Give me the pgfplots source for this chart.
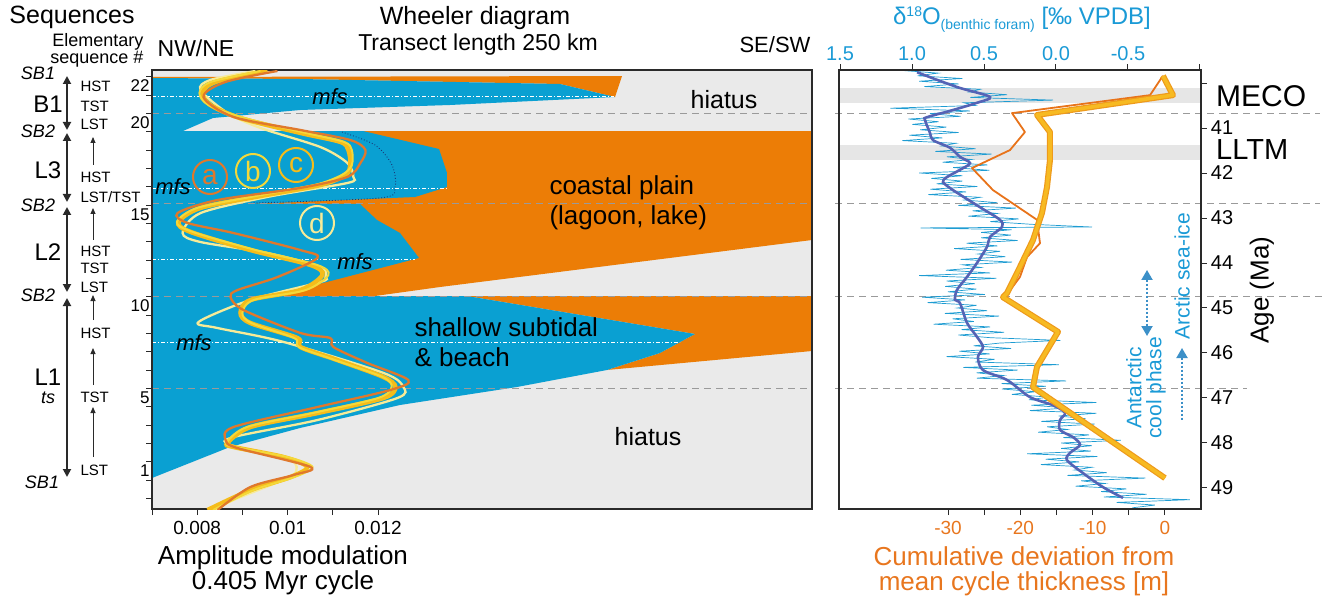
\documentclass[border=0pt]{standalone}
\usepackage{pgfplots}
\pgfplotsset{compat=1.18}
\usepackage{pgfplotstable}
\usepackage{fontspec}
\setmainfont{Liberation Sans}
\usetikzlibrary{arrows.meta}

\definecolor{blueFill}{HTML}{0AA0D2}
\definecolor{orangeFill}{HTML}{EC7D06}
\definecolor{grayBg}{HTML}{EAEAEA}
\definecolor{dashGray}{HTML}{9A9A9A}
\definecolor{colA}{HTML}{E0782C}
\definecolor{colB}{HTML}{F4D83A}
\definecolor{colC}{HTML}{F5BC1A}
\definecolor{colD}{HTML}{F7EB98}
\definecolor{noiseBlue}{HTML}{1E9CD2}
\definecolor{smoothBlue}{HTML}{5563B5}
\definecolor{cumThin}{HTML}{E8731A}
\definecolor{cumEdge}{HTML}{EE9A1C}
\definecolor{cumGold}{HTML}{F7BA22}
\definecolor{txtBlue}{HTML}{1A9AD6}
\definecolor{txtOrange}{HTML}{E8761E}
\definecolor{arrBlue}{HTML}{3C90C8}
\definecolor{bandGray}{HTML}{E6E6E6}
\definecolor{frameC}{HTML}{2A2A2A}
\definecolor{darkDot}{HTML}{1A3A7A}

\newcommand{\fsz}[1]{\fontsize{#1}{#1}\selectfont}

% delta18O benthic foram (value, age Ma)
\pgfplotstableread{
d age
1.075 39.72
0.819 39.78
0.960 39.84
0.651 39.90
0.950 39.96
0.677 40.02
0.914 40.08
0.526 40.14
0.603 40.20
0.340 40.26
0.595 40.32
0.020 40.38
0.639 40.44
0.561 40.50
1.150 40.56
0.598 40.62
0.875 40.68
0.663 40.74
1.025 40.80
0.815 40.86
0.998 40.92
0.761 40.98
0.943 41.04
0.676 41.10
1.018 41.16
0.790 41.22
1.067 41.28
0.695 41.34
0.794 41.40
0.559 41.46
0.838 41.52
0.448 41.58
0.757 41.64
0.587 41.70
0.787 41.76
0.476 41.82
0.714 41.88
0.463 41.94
0.950 42.00
0.650 42.06
0.865 42.12
0.650 42.18
0.829 42.24
0.546 42.30
0.873 42.36
0.625 42.42
0.886 42.48
0.526 42.54
0.637 42.60
0.407 42.66
0.678 42.72
0.278 42.78
0.578 42.84
0.409 42.90
0.609 42.96
0.259 43.02
0.456 43.08
0.170 43.14
-0.250 43.20
0.940 43.22
0.308 43.26
0.520 43.32
0.313 43.38
0.520 43.44
0.266 43.50
0.621 43.56
0.407 43.62
0.707 43.68
0.388 43.74
0.540 43.80
0.352 43.86
0.663 43.92
0.305 43.98
0.648 44.04
0.521 44.10
0.765 44.16
0.458 44.22
0.950 44.28
0.415 44.34
0.760 44.40
0.564 44.46
0.769 44.52
0.553 44.58
0.750 44.64
0.494 44.70
0.930 44.76
0.631 44.82
0.892 44.88
0.551 44.94
0.685 45.00
0.478 45.06
0.771 45.12
0.395 45.18
0.718 45.24
0.571 45.30
0.850 45.36
0.458 45.42
0.655 45.48
0.361 45.54
0.678 45.60
0.455 45.66
-0.030 45.72
0.393 45.78
0.572 45.84
0.312 45.90
0.671 45.96
0.461 46.02
0.760 46.08
0.426 46.14
0.559 46.20
-0.020 46.26
0.644 46.32
0.267 46.38
0.551 46.44
0.366 46.50
0.550 46.56
-0.070 46.62
0.377 46.68
0.071 46.74
0.376 46.80
0.141 46.86
0.306 46.92
0.051 46.98
0.188 47.04
-0.280 47.10
0.171 47.16
-0.079 47.22
0.182 47.28
-0.280 47.34
-0.018 47.40
-0.205 47.46
0.102 47.52
-0.268 47.58
0.062 47.64
-0.078 47.70
0.124 47.76
-0.230 47.82
-0.051 47.88
-0.450 47.94
-0.036 48.00
-0.249 48.06
-0.036 48.12
-0.242 48.18
0.200 48.24
-0.287 48.30
0.071 48.36
-0.161 48.42
0.105 48.48
-0.248 48.54
-0.131 48.60
-0.354 48.66
-0.080 48.72
-0.620 48.78
-0.174 48.84
-0.340 48.90
-0.137 48.96
-0.489 49.02
-0.314 49.08
-0.629 49.14
-0.333 49.20
-0.930 49.26
-0.422 49.32
-0.686 49.38
-0.531 49.44
}\noisetab

\pgfplotstableread{
d age
0.965 39.76
0.826 39.93
0.667 40.11
0.458 40.31
0.549 40.44
0.715 40.60
0.896 40.76
0.910 40.82
0.875 41.11
0.854 41.27
0.736 41.44
0.667 41.64
0.597 41.78
0.667 41.93
0.757 42.09
0.785 42.20
0.715 42.38
0.528 42.76
0.389 43.04
0.375 43.20
0.458 43.42
0.479 43.64
0.549 44.00
0.618 44.31
0.688 44.60
0.701 44.82
0.667 44.89
0.618 45.33
0.549 45.64
0.507 45.87
0.542 46.09
0.507 46.38
0.340 46.60
0.181 46.98
0.021 47.16
-0.063 47.33
-0.028 47.49
-0.028 47.71
-0.118 47.87
-0.167 48.04
-0.097 48.22
-0.076 48.38
-0.188 48.67
-0.326 48.98
-0.465 49.22
}\smoothtab

\begin{document}
\begin{tikzpicture}[x=1pt,y=1pt]
\useasboundingbox (0,0) rectangle (1325,598);

% ---------------- Wheeler diagram (distance along transect, km) ----------------
\begin{axis}[at={(152pt,89pt)}, anchor=south west, scale only axis,
  width=660pt, height=439pt,
  xmin=0, xmax=250, ymin=-1.073, ymax=22.873,
  axis background/.style={fill=grayBg},
  axis line style={draw=none}, xtick=\empty, ytick=\empty]
\addplot[fill=orangeFill, draw=none] coordinates {(0,22.491) (178.03,22.545) (175.38,21.400) (154.55,22.109) (56.06,22.382) (0,22.436)};
\addplot[fill=blueFill, draw=none] coordinates {(0,22.436) (56.06,22.382) (154.55,22.109) (175.38,21.400) (112.88,20.964) (56.06,20.691) (23.11,20.255) (11.74,19.545) (0,19.545)};
\addplot[fill=orangeFill, draw=none] coordinates {(0,19.545) (250,19.545) (250,13.600) (109.09,11.036) (84.47,10.545) (0,10.545)};
\addplot[fill=blueFill, draw=none] coordinates {(0,19.545) (79.92,19.545) (108.71,18.564) (111.74,17.255) (111.74,16.491) (99.62,15.945) (37.12,15.564) (0,15.564)};
\addplot[fill=blueFill, draw=none] coordinates {(0,15.564) (78.79,15.564) (85.23,14.691) (93.94,13.982) (101.14,12.618) (64.77,11.255) (40.91,10.545) (0,10.545)};
\addplot[fill=orangeFill, draw=none] coordinates {(119.32,10.545) (250,10.545) (250,7.545) (172.35,6.509) (192.42,7.436) (205.68,8.473)};
\addplot[fill=blueFill, draw=none] coordinates {(0,10.545) (119.32,10.545) (205.68,8.473) (192.42,7.436) (172.35,6.509) (138.26,5.582) (93.94,4.600) (56.06,3.345) (29.55,2.309) (0,0.618)};
% maximum flooding surfaces
\addplot[white, line width=0.8pt, dash pattern=on 4pt off 2pt on 1pt off 2pt] coordinates {(0,21.455) (175,21.455)};
\addplot[white, line width=0.8pt, dash pattern=on 4pt off 2pt on 1pt off 2pt] coordinates {(0,16.436) (111.7,16.436)};
\addplot[white, line width=0.8pt, dash pattern=on 4pt off 2pt on 1pt off 2pt] coordinates {(0,12.564) (99.6,12.564)};
\addplot[white, line width=0.8pt, dash pattern=on 4pt off 2pt on 1pt off 2pt] coordinates {(0,8.036) (200,8.036)};
\addplot[darkDot, line width=0.9pt, dotted, smooth] coordinates {(71.97,19.491) (84.47,18.782) (90.91,17.691) (92.05,16.491) (86.36,15.891) (37.12,15.618)};
\end{axis}

% sequence boundaries (dashed)
\begin{scope}[dashGray, line width=1pt, dash pattern=on 7pt off 5pt]
\draw (152,{598-114}) -- (812,{598-114});
\draw (152,{598-204}) -- (812,{598-204});
\draw (152,{598-296}) -- (812,{598-296});
\draw (152,{598-388}) -- (812,{598-388});
\draw (835,{598-114}) -- (1320,{598-114});
\draw (835,{598-204}) -- (1320,{598-204});
\draw (835,{598-296}) -- (1325,{598-296});
\draw (835,{598-388}) -- (1247,{598-388});
\end{scope}

% Wheeler texts
\node[font=\itshape\fsz{22}] at (330,{598-97}) {mfs};
\node[font=\itshape\fsz{22}] at (173,{598-187}) {mfs};
\node[font=\itshape\fsz{22}] at (355,{598-262}) {mfs};
\node[font=\itshape\fsz{22}] at (194,{598-343}) {mfs};
\node[font=\fsz{25}] at (724,{598-100}) {hiatus};
\node[font=\fsz{25}] at (648,{598-437}) {hiatus};
\node[font=\fontsize{26}{30}\selectfont, align=left, anchor=west] at (546,{598-203}) {coastal plain\\(lagoon, lake)};
\node[font=\fontsize{26}{30}\selectfont, align=left, anchor=west] at (411,{598-342}) {shallow subtidal\\\& beach};

% ---------------- amplitude modulation curves ----------------
\begin{axis}[at={(152pt,89pt)}, anchor=south west, scale only axis,
  width=660pt, height=439pt,
  xmin=7, xmax=21.6, ymin=-1.073, ymax=22.873,
  axis line style={frameC, line width=1.6pt},
  tick align=outside, tick style={frameC, line width=1pt},
  xtick={7,8,9,10,11,12}, xticklabels={,0.008,,0.01,,0.012},
  xtick pos=left, major tick length=6pt,
  xticklabel style={font=\fsz{19}, yshift=-5pt, inner sep=1pt},
  ytick={-0.5,0.5,...,22.5}, yticklabel=\empty, ytick pos=left,
  extra y ticks={1,5,10,15,20,22},
  extra y tick labels={1,5,10,15,20,22},
  extra y tick style={major tick length=0pt, yticklabel style={font=\fsz{17}, xshift=1pt}},
  ]
\addplot[colD, line width=2.3pt, smooth] coordinates {(9.29,22.82) (8.295,22.33) (8.074,21.78) (8.671,20.53) (9.40,19.71) (10.726,18.67) (11.323,17.80) (11.455,17.04) (11.323,16.71) (9.555,15.95) (8.074,15.07) (7.677,13.98) (8.074,13.49) (9.555,12.89) (10.726,12.13) (10.836,11.58) (10.726,11.31) (9.179,10.33) (8.030,9.13) (8.450,8.80) (9.909,8.04) (12.118,6.35) (12.560,5.58) (12.428,4.98) (10.66,3.78) (8.804,2.85) (8.737,2.42) (10.063,1.60) (10.173,0.89) (9.909,0.51) (8.804,-0.58) (8.405,-1.13)};
\addplot[colC, line width=4.5pt, smooth] coordinates {(9.555,22.82) (8.405,22.22) (8.118,21.62) (8.295,20.96) (8.958,20.25) (10.284,19.44) (11.168,18.95) (11.345,18.51) (11.389,17.69) (11.278,17.15) (10.726,16.60) (9.40,16.00) (8.074,15.35) (7.588,14.58) (7.853,14.04) (9.179,13.05) (10.505,12.24) (10.770,11.69) (10.284,10.87) (9.179,10.33) (8.958,9.62) (9.179,9.07) (10.218,8.25) (10.284,7.76) (11.102,7.05) (12.118,6.13) (12.384,5.58) (12.118,4.98) (10.66,4.16) (9.179,3.40) (8.671,2.53) (8.804,2.31) (9.909,1.76) (10.439,1.22) (10.063,0.67) (9.179,-0.04) (8.229,-1.13)};
\addplot[colB, line width=2pt, smooth] coordinates {(9.40,22.82) (8.30,22.22) (8.05,21.62) (8.25,20.96) (9.05,20.25) (10.40,19.44) (11.25,18.95) (11.42,18.51) (11.42,17.69) (11.20,17.15) (10.60,16.60) (9.30,16.00) (8.00,15.35) (7.55,14.58) (7.90,14.04) (9.30,13.05) (10.65,12.24) (10.90,11.69) (10.40,10.87) (9.25,10.33) (9.00,9.62) (9.20,9.07) (10.15,8.25) (10.25,7.76) (11.05,7.05) (12.10,6.13) (12.30,5.58) (12.00,4.98) (10.55,4.16) (9.10,3.40) (8.65,2.53) (8.85,2.31) (10.00,1.76) (10.55,1.22) (10.15,0.67) (9.25,-0.04) (8.35,-1.13)};
\addplot[colA, line width=2.3pt, smooth] coordinates {(9.776,22.82) (8.626,22.22) (8.141,21.40) (8.804,20.31) (10.284,19.60) (11.389,19.05) (11.72,18.51) (11.61,17.80) (11.323,17.04) (10.284,16.44) (8.450,15.78) (7.566,15.07) (7.787,14.53) (8.804,13.98) (10.284,13.05) (10.66,12.62) (9.776,11.58) (8.892,10.87) (8.737,10.49) (9.024,9.78) (10.284,8.53) (10.947,8.25) (11.013,7.76) (11.765,6.89) (12.671,5.96) (12.273,5.42) (10.66,4.49) (8.804,3.40) (8.627,2.69) (8.892,2.25) (10.505,1.22) (10.129,0.78) (9.179,0.13) (8.450,-1.13)};
\end{axis}

% circled curve labels
\node[draw=colA, line width=2pt, circle, minimum size=34pt, inner sep=0pt, text=colA, font=\fsz{28}] at (210,{598-177}) {a};
\node[draw=colB, line width=2pt, circle, minimum size=34pt, inner sep=0pt, text=colB, font=\fsz{28}] at (253,{598-171}) {b};
\node[draw=colC, line width=2pt, circle, minimum size=34pt, inner sep=0pt, text=colC, font=\fsz{28}] at (296,{598-165}) {c};
\node[draw=colD, line width=2pt, circle, minimum size=34pt, inner sep=0pt, text=colD, font=\fsz{28}] at (317,{598-223}) {d};

% left panel titles
\node[font=\fsz{25}] at (72,{598-17}) {Sequences};
\node[font=\fontsize{18}{15}\selectfont, align=right, anchor=east] at (147,{598-50}) {Elementary\\sequence \#};
\node[font=\fsz{23}] at (196,{598-48}) {NW/NE};
\node[font=\fsz{25}] at (475,{598-18}) {Wheeler diagram};
\node[font=\fsz{23}] at (478,{598-45}) {Transect length 250 km};
\node[font=\fsz{22}] at (775,{598-45}) {SE/SW};
\node[font=\fontsize{26}{25}\selectfont, align=center, inner sep=0pt] at (283,{598-570}) {Amplitude modulation\\0.405 Myr cycle};

% sequence stratigraphy column
\begin{scope}[font=\itshape\fsz{18}]
\node at (38,{598-73}) {SB1};
\node at (38,{598-131}) {SB2};
\node at (38,{598-205}) {SB2};
\node at (38,{598-295}) {SB2};
\node at (42,{598-482}) {SB1};
\node at (48,{598-398}) {ts};
\end{scope}
\begin{scope}[font=\fsz{24}]
\node at (48,{598-104}) {B1};
\node at (48,{598-170}) {L3};
\node at (48,{598-252}) {L2};
\node at (48,{598-377}) {L1};
\end{scope}
\begin{scope}[font=\fsz{15}]
\node[anchor=west] at (77,{598-86}) {HST};
\node[anchor=west] at (77,{598-106}) {TST};
\node[anchor=west] at (77,{598-124}) {LST};
\node[anchor=west] at (77,{598-177}) {HST};
\node[anchor=west] at (77,{598-197}) {LST/TST};
\node[anchor=west] at (77,{598-251}) {HST};
\node[anchor=west] at (77,{598-268}) {TST};
\node[anchor=west] at (77,{598-287}) {LST};
\node[anchor=west] at (77,{598-333}) {HST};
\node[anchor=west] at (77,{598-397}) {TST};
\node[anchor=west] at (77,{598-470}) {LST};
\end{scope}
\begin{scope}[frameC, line width=1.8pt, {Triangle[width=8pt,length=8pt]}-{Triangle[width=8pt,length=8pt]}]
\draw (67,{598-76}) -- (67,{598-130});
\draw (67,{598-133}) -- (67,{598-202});
\draw (67,{598-207}) -- (67,{598-292});
\draw (67,{598-298}) -- (67,{598-477});
\end{scope}
\begin{scope}[frameC, line width=0.8pt, -{Triangle[width=5pt,length=6pt]}]
\draw (93,{598-165}) -- (93,{598-137});
\draw (93,{598-240}) -- (93,{598-208});
\draw (93,{598-320}) -- (93,{598-295});
\draw (93,{598-385}) -- (93,{598-348});
\draw (93,{598-457}) -- (93,{598-407});
\end{scope}

% ---------------- right panel: delta18O ----------------
\begin{axis}[at={(839pt,89pt)}, anchor=south west, scale only axis,
  width=361.7pt, height=439pt,
  x dir=reverse, xmin=-1.005, xmax=1.507,
  y dir=reverse, ymin=39.711, ymax=49.467,
  axis line style={frameC, line width=1.6pt},
  tick align=outside, tick style={frameC, line width=1pt}, major tick length=6pt,
  xtick={1.5,1,0.5,0,-0.5,-1}, xticklabels={1.5,1.0,0.5,0.0,-0.5,},
  xtick pos=right, xticklabel pos=right,
  xticklabel style={font=\fsz{20}, text=txtBlue},
  ytick=\empty]
\fill[bandGray] (axis cs:1.507,40.11) rectangle (axis cs:-1.005,40.44);
\fill[bandGray] (axis cs:1.507,41.38) rectangle (axis cs:-1.005,41.71);
\addplot[noiseBlue, line width=0.7pt] table[x=d, y=age] {\noisetab};
\addplot[smoothBlue, line width=2.6pt, smooth] table[x=d, y=age] {\smoothtab};
\end{axis}

% ---------------- right panel: cumulative deviation ----------------
\begin{axis}[at={(839pt,89pt)}, anchor=south west, scale only axis,
  width=361.7pt, height=439pt,
  xmin=-45.07, xmax=4.94,
  y dir=reverse, ymin=39.711, ymax=49.467,
  axis line style={frameC, line width=1.6pt},
  tick align=outside, tick style={frameC, line width=1pt}, major tick length=6pt,
  xtick={-30,-25,...,5}, xticklabels={-30,,-20,,-10,,0,},
  xtick pos=left, xticklabel pos=left,
  xticklabel style={font=\fsz{19}, text=txtOrange, yshift=-5pt, inner sep=1pt},
  ytick={40,41,...,49}, yticklabels={,41,42,43,44,45,46,47,48,49},
  ytick pos=right, yticklabel pos=right,
  yticklabel style={font=\fsz{20}, xshift=3pt, inner sep=1pt}]
\addplot[cumThin, line width=1.8pt, line join=round] coordinates {(-0.28,39.84) (-2.07,40.27) (-21.15,40.67) (-19.36,41.09) (-21.43,41.49) (-26.68,41.89) (-23.78,42.38) (-17.70,43.04) (-17.28,43.56) (-19.08,43.87) (-20.05,44.31) (-22.12,44.76) (-14.79,45.53) (-17.70,46.31) (-18.25,46.76) (0,48.78)};
\addplot[cumEdge, line width=6pt, line join=round] coordinates {(-0.28,39.84) (1.11,40.27) (-17.70,40.71) (-15.90,41.09) (-15.90,41.71) (-16.31,42.31) (-17.01,42.89) (-18.25,43.49) (-20.05,44.09) (-21.84,44.67) (-22.40,44.76) (-14.79,45.53) (-17.70,46.31) (-18.25,46.76) (0,48.78)};
\addplot[cumGold, line width=3.6pt, line join=round] coordinates {(-0.28,39.84) (1.11,40.27) (-17.70,40.71) (-15.90,41.09) (-15.90,41.71) (-16.31,42.31) (-17.01,42.89) (-18.25,43.49) (-20.05,44.09) (-21.84,44.67) (-22.40,44.76) (-14.79,45.53) (-17.70,46.31) (-18.25,46.76) (0,48.78)};
\end{axis}

% right panel texts
\node[font=\fsz{24}, text=txtBlue] at (1022,{598-20}) {δ\raisebox{8pt}{\fsz{14}18}O\raisebox{-5pt}{\fsz{14}(benthic foram)} [‰ VPDB]};
\node[font=\fsz{30}, anchor=west, inner sep=0pt] at (1216,{598-96}) {MECO};
\node[font=\fsz{29}, anchor=west, inner sep=0pt] at (1216,{598-150}) {LLTM};
\node[font=\fsz{26}, rotate=90] at (1262,{598-290}) {Age (Ma)};
\node[font=\fontsize{26}{25}\selectfont, text=txtOrange, align=center, inner sep=0pt] at (1024,{598-571}) {Cumulative deviation from\\mean cycle thickness [m]};
\node[font=\fontsize{21}{20}\selectfont, text=txtBlue, rotate=90, align=center] at (1146,{598-388}) {Antarctic\\cool phase};
\node[font=\fsz{21}, text=txtBlue, rotate=90] at (1182,{598-276}) {Arctic sea-ice};
\draw[arrBlue, line width=2pt, dash pattern=on 2pt off 2pt, {Triangle[width=11pt,length=10pt]}-{Triangle[width=11pt,length=10pt]}] (1147,{598-270}) -- (1147,{598-336});
\draw[arrBlue, line width=2pt, dash pattern=on 2pt off 2pt, {Triangle[width=11pt,length=10pt]}-] (1182,{598-348}) -- (1182,{598-420});
\end{tikzpicture}
\end{document}
